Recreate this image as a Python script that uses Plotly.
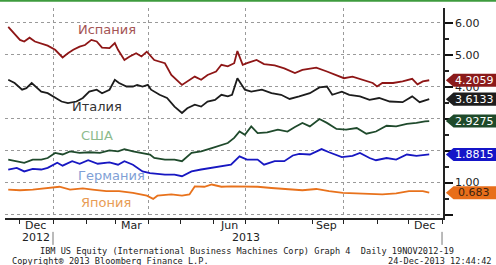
import plotly.graph_objects as go

# ---------------- data ----------------
spain_dates = ["2012-11-20","2012-11-25","2012-12-01","2012-12-05","2012-12-10","2012-12-15","2012-12-19","2012-12-27",
    "2013-01-03","2013-01-10","2013-01-15","2013-01-20","2013-01-26","2013-01-31","2013-02-06","2013-02-11","2013-02-16",
    "2013-02-23","2013-02-28","2013-03-03","2013-03-09","2013-03-14","2013-03-20","2013-03-25","2013-03-30","2013-04-06",
    "2013-04-16","2013-04-22","2013-05-02","2013-05-07","2013-05-14","2013-05-20","2013-05-26","2013-06-03","2013-06-08",
    "2013-06-14","2013-06-20","2013-06-23","2013-06-28","2013-07-02","2013-07-11","2013-07-18","2013-07-28","2013-08-06",
    "2013-08-11","2013-08-16","2013-08-23","2013-09-05","2013-09-15","2013-09-27","2013-10-01","2013-10-09","2013-10-18",
    "2013-10-28","2013-11-01","2013-11-06","2013-11-16","2013-11-25","2013-12-04","2013-12-09","2013-12-14","2013-12-20"]
spain_vals = [5.88,5.68,5.47,5.42,5.54,5.42,5.37,5.29,
    5.16,4.92,5.05,5.16,5.26,5.31,5.47,5.42,5.23,
    5.21,5.37,5.16,4.84,4.95,5.05,4.95,5.10,4.84,
    4.74,4.37,4.06,4.17,4.32,4.22,4.37,4.48,4.69,
    4.64,4.74,5.12,4.69,4.74,4.84,4.71,4.67,4.58,
    4.50,4.43,4.53,4.60,4.48,4.32,4.27,4.32,4.22,
    4.12,4.01,4.12,4.12,4.17,4.25,4.08,4.17,4.2059]

italy_dates = ["2012-11-20","2012-11-26","2012-12-03","2012-12-07","2012-12-12","2012-12-17","2012-12-21","2012-12-27",
    "2013-01-03","2013-01-09","2013-01-15","2013-01-23","2013-01-29","2013-02-04","2013-02-11","2013-02-16","2013-02-23",
    "2013-02-28","2013-03-04","2013-03-11","2013-03-17","2013-03-21","2013-03-26","2013-03-31","2013-04-03","2013-04-11",
    "2013-04-18","2013-04-25","2013-05-02","2013-05-07","2013-05-14","2013-05-20","2013-05-26","2013-06-02","2013-06-08",
    "2013-06-14","2013-06-18","2013-06-23","2013-06-30","2013-07-06","2013-07-16","2013-07-25","2013-08-03","2013-08-11",
    "2013-08-20","2013-08-30","2013-09-08","2013-09-15","2013-09-20","2013-09-29","2013-10-06","2013-10-16","2013-10-25",
    "2013-11-03","2013-11-13","2013-11-25","2013-12-04","2013-12-11","2013-12-20"]
italy_vals = [4.22,4.12,3.91,3.96,4.12,3.96,3.85,3.80,
    3.65,3.54,3.49,3.54,3.65,3.85,3.91,3.80,3.91,
    4.22,4.12,4.01,4.01,4.06,4.01,4.06,3.91,3.75,
    3.65,3.38,3.18,3.33,3.44,3.38,3.54,3.59,3.75,
    3.70,3.75,4.27,3.91,3.85,3.91,3.80,3.75,3.62,
    3.70,3.80,3.98,4.01,3.75,3.85,3.75,3.70,3.59,
    3.65,3.54,3.52,3.70,3.52,3.6133]

usa_dates = ["2012-11-20","2012-11-28","2012-12-05","2012-12-13","2012-12-21","2012-12-27","2013-01-03","2013-01-10",
    "2013-01-17","2013-01-26","2013-02-04","2013-02-14","2013-02-23","2013-03-03","2013-03-09","2013-03-17","2013-03-26",
    "2013-04-02","2013-04-06","2013-04-16","2013-04-25","2013-05-02","2013-05-11","2013-05-20","2013-05-30","2013-06-08",
    "2013-06-14","2013-06-20","2013-06-25","2013-06-30","2013-07-06","2013-07-12","2013-07-21","2013-07-31","2013-08-09",
    "2013-08-16","2013-08-23","2013-08-30","2013-09-08","2013-09-15","2013-09-24","2013-10-03","2013-10-13","2013-10-22",
    "2013-10-31","2013-11-10","2013-11-19","2013-11-29","2013-12-08","2013-12-16","2013-12-20"]
usa_vals = [1.72,1.67,1.62,1.72,1.72,1.77,1.93,1.88,
    1.98,1.93,1.95,1.93,2.01,1.98,2.05,1.98,1.93,
    1.88,1.77,1.72,1.72,1.67,1.93,1.98,2.08,2.19,
    2.24,2.40,2.60,2.50,2.76,2.55,2.57,2.66,2.60,
    2.74,2.87,2.76,2.99,2.87,2.68,2.66,2.71,2.53,
    2.60,2.78,2.76,2.84,2.87,2.92,2.9275]

germany_dates = ["2012-11-20","2012-11-28","2012-12-05","2012-12-13","2012-12-21","2012-12-27","2013-01-05","2013-01-10",
    "2013-01-19","2013-01-26","2013-02-03","2013-02-12","2013-02-23","2013-03-03","2013-03-09","2013-03-17","2013-03-26",
    "2013-04-02","2013-04-16","2013-04-25","2013-05-02","2013-05-11","2013-05-20","2013-05-30","2013-06-08","2013-06-17",
    "2013-06-25","2013-07-02","2013-07-12","2013-07-18","2013-07-28","2013-08-06","2013-08-14","2013-08-20","2013-08-30",
    "2013-09-10","2013-09-17","2013-09-29","2013-10-09","2013-10-16","2013-10-25","2013-10-31","2013-11-10","2013-11-19",
    "2013-11-29","2013-12-08","2013-12-20"]
germany_vals = [1.41,1.46,1.35,1.43,1.41,1.46,1.62,1.53,
    1.67,1.59,1.70,1.59,1.63,1.56,1.67,1.56,1.35,
    1.30,1.25,1.25,1.20,1.35,1.41,1.46,1.51,1.56,
    1.82,1.72,1.72,1.56,1.67,1.67,1.85,1.90,1.88,
    2.05,1.95,1.80,1.84,1.93,1.77,1.70,1.77,1.72,
    1.88,1.84,1.8815]

japan_dates = ["2012-11-20","2012-12-01","2012-12-13","2012-12-26","2013-01-07","2013-01-17","2013-01-29","2013-02-07",
    "2013-02-20","2013-03-04","2013-03-17","2013-03-30","2013-04-02","2013-04-05","2013-04-09","2013-04-22","2013-05-02",
    "2013-05-09","2013-05-14","2013-05-23","2013-05-30","2013-06-08","2013-06-17","2013-06-30","2013-07-12","2013-07-25",
    "2013-08-06","2013-08-16","2013-08-23","2013-09-05","2013-09-17","2013-09-30","2013-10-13","2013-10-25","2013-11-06",
    "2013-11-19","2013-12-01","2013-12-14","2013-12-20"]
japan_vals = [0.78,0.76,0.78,0.83,0.87,0.78,0.82,0.78,
    0.73,0.73,0.68,0.59,0.55,0.49,0.59,0.63,0.59,
    0.63,0.88,0.87,0.94,0.87,0.88,0.88,0.87,0.83,
    0.80,0.78,0.76,0.80,0.73,0.68,0.66,0.63,0.63,
    0.66,0.73,0.73,0.683]

series_names = ["Испания", "Италия", "США", "Германия", "Япония"]
last_labels = ["4.2059", "3.6133", "2.9275", "1.8815", "0.683"]
y_tick_vals = [0, 1, 2, 3, 4, 5, 6]
y_tick_text = ["", "1.00", "", "", "4.00", "5.00", "6.00"]
quarter_starts = ["2013-01-01", "2013-04-01", "2013-07-01", "2013-10-01", "2014-01-01"]
month_label_dates = ["2012-12-16", "2013-03-16", "2013-06-15", "2013-09-15", "2013-12-16"]
month_labels = ["Dec", "Mar", "Jun", "Sep", "Dec"]
year_label_dates = ["2012-12-16", "2013-07-01"]
year_labels = ["2012", "2013"]
footer1 = "IBM US Equity (International Business Machines Corp) Graph 4  Daily 19NOV2012-19"
footer2 = "Copyright\u00ae 2013 Bloomberg Finance L.P."
footer3 = "24-Dec-2013 12:44:42"

# ---------------- styles ----------------
Y_RANGE = [-0.109, 6.469]
line_colors = ["#8E1616", "#1c1c1c", "#1F4A2C", "#1717C2", "#E8721C"]
tag_fill = ["#8B1A1A", "#1d1d1d", "#1E4A2A", "#1515C8", "#E86E1A"]
tag_text = ["white", "white", "white", "white", "#3a2210"]
name_colors = ["#A45454", "#333333", "#8DBB8D", "#7F9FD6", "#E89C55"]
name_pos = [("2013-02-21", 5.81), ("2013-02-11", 3.375), ("2013-02-11", 2.47),
            ("2013-02-25", 1.22), ("2013-02-20", 0.375)]

all_dates = [spain_dates, italy_dates, usa_dates, germany_dates, japan_dates]
all_vals = [spain_vals, italy_vals, usa_vals, germany_vals, japan_vals]


def to_paper_y(v):
    return (v - Y_RANGE[0]) / (Y_RANGE[1] - Y_RANGE[0])


fig = go.Figure()
for d, v, c, n in zip(all_dates, all_vals, line_colors, series_names):
    fig.add_trace(go.Scatter(x=d, y=v, mode="lines", name=n,
                             line=dict(color=c, width=1.8), showlegend=False))

annotations = []
shapes = []
# series name labels
for n, (dx, dy), c in zip(series_names, name_pos, name_colors):
    annotations.append(dict(x=dx, y=dy, xref="x", yref="y", text=n, showarrow=False,
                            font=dict(family="DejaVu Sans", size=13, color=c)))

# last-value tags
half_h = 0.205 / (Y_RANGE[1] - Y_RANGE[0])
for v, lab, fc, tc in zip(all_vals, last_labels, tag_fill, tag_text):
    py = to_paper_y(v[-1])
    shapes.append(dict(type="path", xref="paper", yref="paper", layer="above",
                       path=f"M 1.0065,{py} L 1.024,{py + half_h} L 1.13,{py + half_h} "
                            f"L 1.13,{py - half_h} L 1.024,{py - half_h} Z",
                       fillcolor=fc, line=dict(width=0)))
    annotations.append(dict(x=1.0715, y=py, xref="paper", yref="paper", text=lab, showarrow=False,
                            xanchor="center", yanchor="middle",
                            font=dict(family="DejaVu Sans", size=11, color=tc)))

# month / year labels
for d, t in zip(month_label_dates, month_labels):
    annotations.append(dict(x=d, y=-0.036, xref="x", yref="paper", text=t, showarrow=False,
                            yanchor="middle", font=dict(family="DejaVu Sans", size=11, color="#222")))
for d, t in zip(year_label_dates, year_labels):
    annotations.append(dict(x=d, y=-0.093, xref="x", yref="paper", text=t, showarrow=False,
                            yanchor="middle", font=dict(family="DejaVu Sans", size=11, color="#222")))
for d in ["2013-01-01", "2014-01-01"]:
    shapes.append(dict(type="line", xref="x", yref="paper", x0=d, x1=d, y0=-0.128, y1=-0.066,
                       line=dict(color="#777", width=1)))

# footer
annotations.append(dict(x=(38 - 5) / 438, y=-0.159, xref="paper", yref="paper", text=footer1,
                        showarrow=False, xanchor="left", yanchor="middle",
                        font=dict(family="DejaVu Sans Mono", size=8.6, color="#222")))
annotations.append(dict(x=(10 - 5) / 438, y=-0.205, xref="paper", yref="paper", text=footer2,
                        showarrow=False, xanchor="left", yanchor="middle",
                        font=dict(family="DejaVu Sans Mono", size=8.6, color="#222")))
annotations.append(dict(x=(493 - 5) / 438, y=-0.205, xref="paper", yref="paper", text=footer3,
                        showarrow=False, xanchor="right", yanchor="middle",
                        font=dict(family="DejaVu Sans Mono", size=8.6, color="#222")))

# green top rule
shapes.append(dict(type="line", xref="paper", yref="paper", x0=-0.02, x1=1.2, y0=1.034, y1=1.034,
                   line=dict(color="#3E9B3E", width=2)))

fig.update_layout(
    width=496, height=265,
    margin=dict(l=5, r=53, t=8, b=46.5),
    paper_bgcolor="white", plot_bgcolor="white",
    showlegend=False,
    annotations=annotations, shapes=shapes,
    xaxis=dict(type="date", range=["2012-11-16 23:00", "2014-01-01 22:00"],
               tickvals=quarter_starts, showticklabels=False,
               ticks="outside", ticklen=4, tickcolor="#222", tickwidth=1,
               showgrid=True, gridcolor="#9a9a9a", griddash="dot", gridwidth=1,
               showline=True, linecolor="#222", linewidth=1.5, zeroline=False,
               minor=dict(dtick="M1", tick0="2012-12-01", ticks="outside", ticklen=4,
                          tickcolor="#222", showgrid=False)),
    yaxis=dict(side="right", range=Y_RANGE,
               tickvals=y_tick_vals, ticktext=y_tick_text,
               ticks="outside", ticklen=8, tickwidth=2, tickcolor="#111",
               tickfont=dict(family="DejaVu Sans", size=11, color="#222"),
               showgrid=True, gridcolor="#9a9a9a", griddash="dot", gridwidth=1,
               showline=True, linecolor="#222", linewidth=1.5, zeroline=False,
               minor=dict(dtick=0.5, tick0=0, ticks="outside", ticklen=4, tickcolor="#222",
                          showgrid=False)),
)

fig.write_html("out.html", config={"displayModeBar": False},
               post_script="document.body.style.margin='0';")
